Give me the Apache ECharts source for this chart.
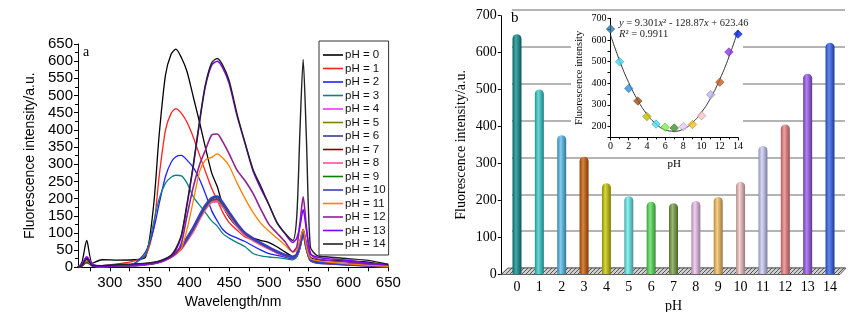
<!DOCTYPE html>
<html><head><meta charset="utf-8">
<script src="https://cdn.jsdelivr.net/npm/echarts@6/dist/echarts.min.js"></script>
<style>html,body{margin:0;padding:0;background:#fff}#c{width:865px;height:312px}</style>
</head><body><div id="c"></div>
<script>
// ---------- Panel a: spectra ----------
const wavelengths = [260,265,271,278,290,310,330,345,355,362,370,377,383,390,397,405,413,420,428,435,442,450,460,470,480,490,500,510,520,530,535,539,543,547,552,560,575,600,625,650];
const pH0  = [0,15,78,12,22,21,22,30,180,385,560,620,635,610,570,495,420,350,275,235,180,145,118,98,85,78,72,60,45,32,40,75,110,70,30,22,20,18,15,5];
const pH1  = [0,5,22,5,5,10,18,35,115,265,400,448,462,448,422,378,325,280,230,195,160,130,108,88,80,68,55,42,30,25,32,60,105,60,22,15,12,10,8,3];
const pH2  = [0,5,18,5,3,5,10,45,110,185,265,305,322,326,312,290,255,215,165,135,110,95,85,75,62,50,40,35,30,25,32,55,100,55,20,15,12,10,6,3];
const pH3  = [0,5,15,5,3,5,10,38,130,200,245,262,268,266,245,205,180,160,135,120,98,85,72,60,40,33,30,28,25,22,30,55,98,55,20,12,10,8,5,3];
const pH4  = [0,8,30,8,3,5,6,9,12,15,22,30,40,55,80,110,145,172,192,195,178,152,120,95,80,68,55,44,35,30,38,70,108,62,25,15,12,8,5,3];
const pH5  = [0,5,15,5,3,5,6,9,12,15,22,30,40,55,80,108,143,170,190,192,176,150,120,95,80,67,55,43,35,30,36,65,100,58,22,14,12,8,5,3];
const pH6  = [0,6,20,6,3,5,6,9,12,16,23,32,42,58,85,115,150,178,200,203,185,158,125,98,82,70,57,45,36,30,37,65,102,58,22,15,12,8,5,3];
const pH7  = [0,5,14,5,3,5,6,9,12,15,22,30,40,55,82,110,146,174,194,196,180,154,122,96,80,68,55,44,35,30,37,68,110,60,22,14,12,8,5,3];
const pH8  = [0,5,18,5,3,5,6,9,12,15,22,30,40,54,78,106,142,170,190,192,177,152,121,95,79,66,54,43,34,29,36,66,105,58,22,14,12,8,5,3];
const pH9  = [0,5,14,5,3,5,6,9,12,15,22,30,40,55,80,110,145,173,195,198,181,155,123,97,81,68,56,44,35,30,37,68,108,60,22,14,12,8,5,3];
const pH10 = [0,6,22,6,3,5,6,9,12,16,23,32,42,58,85,116,152,180,202,206,188,160,127,100,84,70,58,46,36,30,37,65,100,58,22,15,12,8,5,3];
const pH11 = [0,6,20,6,3,5,6,9,12,15,22,30,38,55,110,195,280,312,320,330,318,295,245,200,160,128,105,85,65,45,50,80,110,60,25,20,15,10,6,3];
const pH12 = [0,8,28,8,3,5,6,9,12,15,22,30,40,70,150,235,300,340,385,388,365,330,282,252,215,168,125,100,75,45,60,130,205,120,40,25,20,15,10,8];
const pH13 = [0,8,30,8,3,5,8,10,13,16,23,33,50,90,180,295,425,525,588,600,580,535,440,360,280,228,182,130,98,72,85,120,168,110,40,30,25,20,12,8];
const pH14 = [0,5,25,5,5,8,10,12,15,18,25,35,55,95,185,300,430,530,595,608,588,543,445,362,285,235,182,131,100,78,150,400,605,380,60,35,30,25,20,8];
const spectra = [pH0,pH1,pH2,pH3,pH4,pH5,pH6,pH7,pH8,pH9,pH10,pH11,pH12,pH13,pH14];
const legendNames = ['pH = 0','pH = 1','pH = 2','pH = 3','pH = 4','pH = 5','pH = 6','pH = 7','pH = 8','pH = 9','pH = 10','pH = 11','pH = 12','pH = 13','pH = 14'];
const lineColors = ['#000000','#ff2020','#2020ff','#108080','#ff30ff','#808000','#3a3a9a','#800000','#ff4fa0','#008000','#3c3cc0','#ff8000','#902090','#8000ff','#222222'];
const lineWidths = [1.3,1.3,1.3,1.3,2,1.3,2,1.3,2.5,1.3,2.5,1.3,1.6,1.5,1.4];
const xLabelsA = [300,350,400,450,500,550,600,650];
const xTicksA = [275,300,325,350,375,400,425,450,475,500,525,550,575,600,625,650];

// ---------- Panel b: bars + inset ----------
const barCategories = ['0','1','2','3','4','5','6','7','8','9','10','11','12','13','14'];
const barValues = [650,500,376,318,246,211,196,192,198,209,250,347,405,543,627];
const barColors = ['#0a8c8c','#33cccc','#55bbee','#cc5c00','#c8c800','#66eeee','#55e055','#78a040','#f0c0f0','#f8c060','#f4c4c4','#ccccf8','#f08080','#9955ee','#2f5ff0'];
const insetPH = [0,1,2,3,4,5,6,7,8,9,10,11,12,13,14];
const insetValues = [650,499,376,318,246,211,197,193,199,209,250,347,405,544,627];
const insetColors = ['#2878a8','#40d8f8','#3090e0','#9a5010','#c0c000','#40e0f0','#80f040','#409030','#e8c8f8','#f0c020','#f8c8c8','#c0b0f0','#c06020','#9030f0','#0020e0'];
const fitCurve = [623,504,403,321,257,212,185,178,188,218,266,332,418,521,644];
const insetYLabels = [200,300,400,500,600,700];
const insetYTicks = [150,200,250,300,350,400,450,500,550,600,650,700];

function shade(hex, f) {
  const n = parseInt(hex.slice(1), 16);
  let r = (n >> 16) & 255, g = (n >> 8) & 255, b = n & 255;
  if (f < 1) { r *= f; g *= f; b *= f; }
  else { const t = f - 1; r += (255 - r) * t; g += (255 - g) * t; b += (255 - b) * t; }
  return 'rgb(' + Math.round(r) + ',' + Math.round(g) + ',' + Math.round(b) + ')';
}

const chart = echarts.init(document.getElementById('c'), null, {renderer: 'canvas'});
const SANS = 'Liberation Sans, Arial, sans-serif';
const SERIF = 'Liberation Serif, Times New Roman, serif';

// floor pattern
const pc = document.createElement('canvas'); pc.width = 4; pc.height = 4;
const pg = pc.getContext('2d');
pg.fillStyle = '#d0d0d0'; pg.fillRect(0, 0, 4, 4);
pg.strokeStyle = '#555'; pg.lineWidth = 1;
pg.beginPath(); pg.moveTo(0, 4); pg.lineTo(4, 0); pg.stroke();

const lineSeries = spectra.map((arr, i) => ({
  type: 'line', name: legendNames[i], xAxisIndex: 0, yAxisIndex: 0,
  data: wavelengths.map((w, j) => [w, arr[j]]),
  smooth: 0.25, symbol: 'none', z: 2,
  lineStyle: {color: lineColors[i], width: lineWidths[i]},
  itemStyle: {color: lineColors[i]}
}));

const option = {
  animation: false,
  backgroundColor: '#fff',
  title: [
    {text: 'a', left: 83, top: 45, padding: 0, textStyle: {fontFamily: SERIF, fontSize: 14, fontWeight: 'normal', color: '#000'}},
    {text: 'b', left: 511, top: 11, padding: 0, textStyle: {fontFamily: SERIF, fontSize: 15, fontWeight: 'normal', color: '#000'}},
    {text: '{i|y} = 9.301{i|x}² - 128.87{i|x} + 623.46\n{i|R}² = 0.9911', left: 619, top: 17, padding: 0,
     textStyle: {fontFamily: SERIF, fontSize: 10.5, fontWeight: 'normal', color: '#222', lineHeight: 11.5,
       rich: {i: {fontStyle: 'italic', fontFamily: SERIF, fontSize: 10.5, color: '#222', lineHeight: 11.5}}}}
  ],
  legend: {
    data: legendNames, orient: 'vertical', left: 319, top: 41,
    icon: 'rect', padding: [8, 3, 5, 4], itemGap: 1.5, itemWidth: 20, itemHeight: 1.6,
    borderColor: '#333', borderWidth: 1,
    textStyle: {fontFamily: SANS, fontSize: 11.5, color: '#111', lineHeight: 12, padding: [0, 0, 0, -3]}
  },
  grid: [
    {left: 78, right: 476.7, top: 44, bottom: 44.7, outerBoundsMode: 'none', containLabel: false},
    {left: 505.8, right: 23.8, top: 15.7, bottom: 38, outerBoundsMode: 'none', containLabel: false},
    {left: 512, right: 20, top: 10, bottom: 44, outerBoundsMode: 'none', containLabel: false},
    {left: 610.5, right: 127, top: 18.3, bottom: 174.7, outerBoundsMode: 'none', containLabel: false}
  ],
  xAxis: [
    {type: 'value', gridIndex: 0, min: 260, max: 650,
     name: 'Wavelength/nm', nameLocation: 'middle', nameGap: 23,
     nameTextStyle: {fontFamily: SANS, fontSize: 14, color: '#000'},
     axisLine: {lineStyle: {color: '#000', width: 1}},
     axisTick: {show: true, customValues: xTicksA, length: 4, lineStyle: {color: '#000'}},
     axisLabel: {customValues: xLabelsA, fontFamily: SANS, fontSize: 15, color: '#000', margin: 8},
     splitLine: {show: false}},
    {type: 'category', gridIndex: 1, data: barCategories,
     name: 'pH', nameLocation: 'middle', nameGap: 24,
     nameTextStyle: {fontFamily: SERIF, fontSize: 14, color: '#000'},
     axisLine: {show: false}, axisTick: {show: false},
     axisLabel: {fontFamily: SERIF, fontSize: 14, color: '#000', margin: 6}},
    {type: 'category', gridIndex: 2, data: barCategories, show: false},
    {type: 'value', gridIndex: 3, min: 0, max: 14, interval: 2, z: 3,
     name: 'pH', nameLocation: 'middle', nameGap: 21,
     nameTextStyle: {fontFamily: SERIF, fontSize: 11, color: '#000'},
     axisLine: {lineStyle: {color: '#000', width: 1}},
     axisTick: {length: 3, lineStyle: {color: '#000'}},
     minorTick: {show: true, splitNumber: 2, length: 2, lineStyle: {color: '#000'}},
     axisLabel: {fontFamily: SERIF, fontSize: 10, color: '#000', margin: 4},
     splitLine: {show: false}}
  ],
  yAxis: [
    {type: 'value', gridIndex: 0, min: 0, max: 650, interval: 50,
     name: 'Fluorescence intensity/a.u.', nameLocation: 'middle', nameGap: 41,
     nameTextStyle: {fontFamily: SANS, fontSize: 14, color: '#000'},
     axisLine: {show: true, lineStyle: {color: '#000', width: 1}},
     axisTick: {length: 4, lineStyle: {color: '#000'}},
     minorTick: {show: true, splitNumber: 2, length: 3, lineStyle: {color: '#000'}},
     axisLabel: {fontFamily: SANS, fontSize: 15, color: '#000', margin: 5},
     splitLine: {show: false}},
    {type: 'value', gridIndex: 1, min: 0, max: 700, interval: 100, offset: 5,
     name: 'Fluorescence intensity/a.u.', nameLocation: 'middle', nameGap: 32,
     nameTextStyle: {fontFamily: SERIF, fontSize: 14, color: '#000'},
     axisLine: {show: true, lineStyle: {color: '#000', width: 1}},
     axisTick: {show: true, length: 3, lineStyle: {color: '#000'}},
     axisLabel: {fontFamily: SERIF, fontSize: 14, color: '#000', margin: 4},
     splitLine: {show: false}},
    {type: 'value', gridIndex: 2, min: 0, max: 700, interval: 100,
     axisLine: {show: false}, axisTick: {show: false}, axisLabel: {show: false},
     splitLine: {show: true, lineStyle: {color: '#b4b4b4', width: 2}}},
    {type: 'value', gridIndex: 3, min: 150, max: 700, z: 3,
     name: 'Fluorescence intensity', nameLocation: 'middle', nameGap: 26,
     nameTextStyle: {fontFamily: SERIF, fontSize: 10.5, color: '#000'},
     axisLine: {show: true, lineStyle: {color: '#000', width: 1}},
     axisTick: {show: true, customValues: insetYTicks, length: 3, lineStyle: {color: '#000'}},
     axisLabel: {customValues: insetYLabels, fontFamily: SERIF, fontSize: 10, color: '#000', margin: 4},
     splitLine: {show: false}}
  ],
  graphic: [
    {type: 'rect', z: 1, shape: {x: 571, y: 12, width: 172, height: 140}, style: {fill: '#fff'}},
    {type: 'polygon', z: 1, shape: {points: [[501, 274.5], [840, 274.5], [846, 268], [508, 268]]},
     style: {fill: {image: pc, repeat: 'repeat'}, stroke: '#444', lineWidth: 0.8}}
  ],
  series: lineSeries.concat([
    {type: 'bar', xAxisIndex: 1, yAxisIndex: 1, barWidth: 9, z: 3,
     data: barValues.map((v, i) => ({value: v, itemStyle: {
       borderRadius: [4.5, 4.5, 1, 1],
       color: new echarts.graphic.LinearGradient(0, 0, 1, 0, [
         {offset: 0, color: shade(barColors[i], 0.72)},
         {offset: 0.38, color: shade(barColors[i], 1.25)},
         {offset: 1, color: shade(barColors[i], 0.62)}])}}))},
    {type: 'line', xAxisIndex: 3, yAxisIndex: 3, z: 4, smooth: true, symbol: 'none',
     data: insetPH.map((p, i) => [p, fitCurve[i]]),
     lineStyle: {color: '#333', width: 1}},
    {type: 'scatter', xAxisIndex: 3, yAxisIndex: 3, z: 5, symbol: 'diamond', symbolSize: 8.5,
     data: insetPH.map((p, i) => ({value: [p, insetValues[i]], itemStyle: {color: insetColors[i], borderColor: shade(insetColors[i], 0.6), borderWidth: 0.6}}))}
  ])
};
chart.setOption(option);
</script>
</body></html>
